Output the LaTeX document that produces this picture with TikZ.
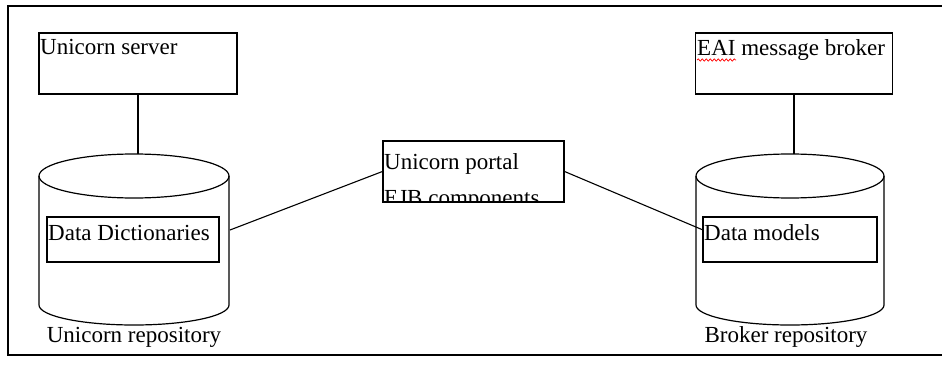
\documentclass[tikz,border=0pt]{standalone}
\usepackage{fontspec}
\setmainfont{Liberation Serif}
\usetikzlibrary{decorations.pathmorphing}
\begin{document}
\begin{tikzpicture}[x=1pt,y=1pt,
  box/.style={draw=black,line width=1.2pt,rectangle,inner sep=0pt},
  txt/.style={inner sep=0pt,anchor=base west,font=\fontsize{23}{36}\selectfont},
  ctxt/.style={inner sep=0pt,anchor=base,font=\fontsize{23}{36}\selectfont},
  conn/.style={draw=black,line width=1.1pt},
  cyl/.style={draw=black,line width=1.2pt}]
\useasboundingbox (0,0) rectangle (942,365);
\fill[white] (0,0) rectangle (942,365);
% outer frame
\draw[line width=2pt] (944,359) -- (8,359) -- (8,10) -- (944,10);

% left column
\node[box,minimum width=198pt,minimum height=61pt] (srv) at (138,301.5) {};
\node[txt] (srvt) at (40,310) {Unicorn server};
\coordinate (cylLtop) at (138,211);
\draw[cyl] (134,189) ellipse[x radius=95,y radius=22];
\draw[cyl] (39,189) -- (39,60) arc[start angle=180,end angle=360,x radius=95,y radius=20] -- (229,189);
\node[box,minimum width=172pt,minimum height=45pt] (dd) at (133,125.5) {};
\node[txt] (ddt) at (48,125) {Data Dictionaries};
\node[ctxt] (ur) at (134,23) {Unicorn repository};
\coordinate (cylLe) at (230,135);
\draw[conn] (srv.south) -- (cylLtop);

% centre
\node[box,minimum width=181pt,minimum height=61pt] (portal) at (473.5,193.5) {};
\begin{scope}
  \clip (portal.south west) rectangle (portal.north east);
  \node[txt] (pt1) at (384,196) {Unicorn portal};
  \node[txt] (pt2) at (384,160) {EJB components};
\end{scope}

% right column
\node[box,minimum width=197pt,minimum height=61pt] (eai) at (794,301.5) {};
\node[txt] (eait) at (697,309) {EAI message broker};
\draw[red,line width=0.7pt,decorate,decoration={snake,amplitude=1.1pt,segment length=4pt}] (697,305) -- (736,305);
\coordinate (cylRtop) at (794,211);
\draw[cyl] (790,189) ellipse[x radius=94,y radius=22];
\draw[cyl] (696,189) -- (696,60) arc[start angle=180,end angle=360,x radius=94,y radius=20] -- (884,189);
\node[box,minimum width=174pt,minimum height=45pt] (dm) at (790,125.5) {};
\node[txt] (dmt) at (704,125) {Data models};
\node[ctxt] (br) at (786,23) {Broker repository};
\coordinate (dmw) at (703,135);
\draw[conn] (eai.south) -- (cylRtop);

% connectors
\draw[conn] (cylLe) -- (portal.west);
\draw[conn] (portal.east) -- (dmw);
\end{tikzpicture}
\end{document}
